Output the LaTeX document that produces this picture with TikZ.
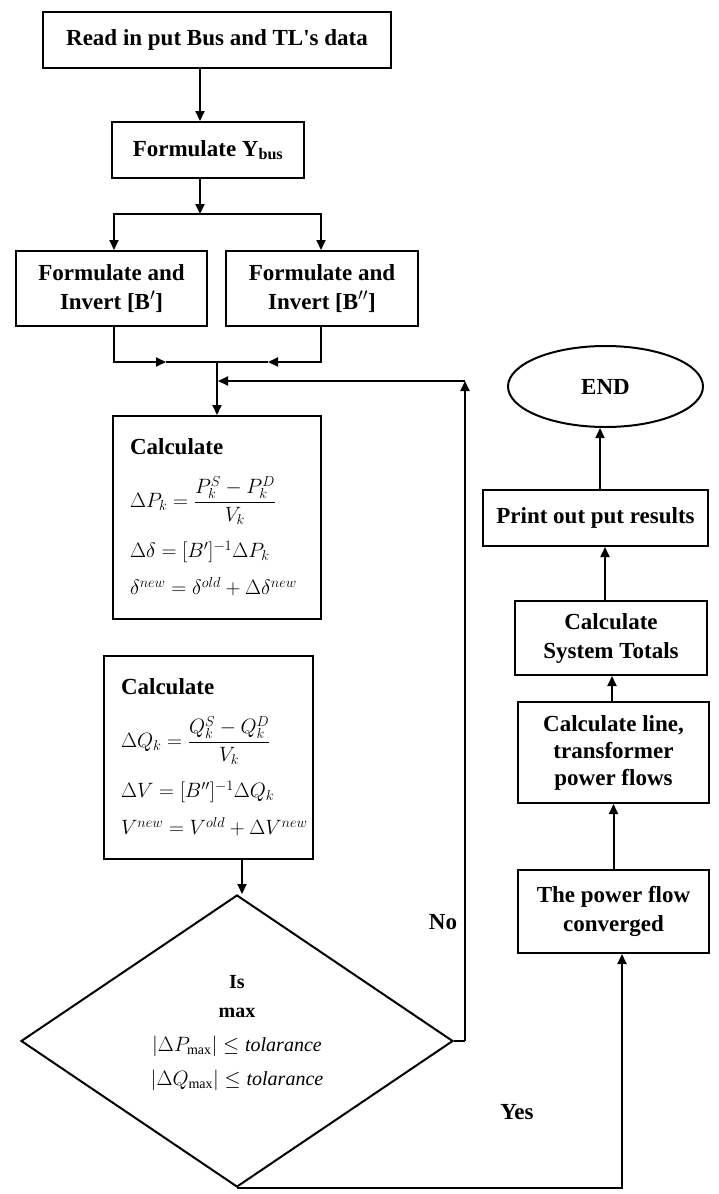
\documentclass[tikz,border=0pt]{standalone}
\usepackage{fontspec}
\setmainfont{Liberation Serif}
\usetikzlibrary{arrows.meta,shapes.geometric}
\newcommand{\eqline}[1]{\mbox{\fontsize{20}{24}\selectfont$#1$}}
\begin{document}
\begin{tikzpicture}[x=1pt,y=-1pt,
  ln/.style={line width=2pt},
  arr/.style={ln,-{Triangle[length=10pt,width=9pt]}},
  txt/.style={font=\bfseries\fontsize{23}{29}\selectfont},
  procbox/.style 2 args={draw,ln,txt,minimum width=#1,minimum height=#2,
    inner sep=0pt,align=center},
  calcbox/.style 2 args={draw,ln,txt,text width=#1,minimum height=#2,
    inner xsep=17pt,inner ysep=0pt,align=left},
  lbl/.style={txt,inner sep=0pt}]
\useasboundingbox (0,0) rectangle (719,1194);

% main column
\node[procbox={348pt}{56pt}] (read) at (217,40) {Read in put Bus and TL\textquotesingle s data};
\node[procbox={192pt}{56pt}] (ybus) at (208,150) {Formulate Y\textsubscript{bus}};
\node[procbox={191pt}{75pt}] (bp) at (111.5,288.5) {Formulate and\\ Invert [B$^{\prime}$]};
\node[procbox={192pt}{75pt}] (bpp) at (322,288.5) {Formulate and\\ Invert [B$^{\prime\prime}$]};

\node[calcbox={174pt}{203pt}] (calcP) at (217,517.5) {Calculate\\[20pt]
  \eqline{\displaystyle \Delta P_k=\frac{P_k^S-P_k^D}{V_k}}\\[15pt]
  \eqline{\Delta\delta=[B']^{-1}\Delta P_k}\\[8pt]
  \eqline{\delta^{new}=\delta^{old}+\Delta\delta^{new}}};
\node[calcbox={175pt}{203pt}] (calcQ) at (208.5,757.5) {Calculate\\[20pt]
  \eqline{\displaystyle \Delta Q_k=\frac{Q_k^S-Q_k^D}{V_k}}\\[15pt]
  \eqline{\Delta V=[B'']^{-1}\Delta Q_k}\\[8pt]
  \eqline{V^{new}=V^{old}+\Delta V^{new}}};

\node[draw,ln,diamond,minimum width=432pt,minimum height=292pt,inner sep=0pt] (dia) at (237,1041) {};
\node[align=center,inner sep=0pt,font=\fontsize{20}{34}\selectfont] (diatext) at (237,1033)
  {\textbf{Is}\\[-5pt] \textbf{max}\\
   $|\Delta P_{\max}|\le \mathit{tolarance}$\\
   $|\Delta Q_{\max}|\le \mathit{tolarance}$};

% right column
\node[procbox={191pt}{83pt}] (conv) at (613.5,911.5) {The power flow\\ converged};
\node[procbox={191pt}{101pt}] (flows) at (613.5,752.5) {Calculate line,\\[-2pt] transformer\\[-2pt] power flows};
\node[procbox={192pt}{74pt}] (totals) at (611,638) {Calculate\\ System Totals};
\node[procbox={225pt}{56pt}] (print) at (595.5,518) {Print out put results};
\node[draw,ln,ellipse,minimum width=195pt,minimum height=81pt,inner sep=0pt,
  font=\bfseries\fontsize{23}{26}\selectfont] (finish) at (605.5,386.5) {END};

\node[lbl] (nolbl) at (443,922) {No};
\node[lbl] (yeslbl) at (517,1112) {Yes};

% junction points
\coordinate (split) at (200,214);
\coordinate (join) at (217,362);
\coordinate (midL) at (166,362);
\coordinate (midR) at (268,362);
\coordinate (noCorner) at (465,1041);
\coordinate (fb) at (465,381);
\coordinate (fbIn) at (218,381);

% connectors
\draw[arr] ([xshift=-17pt]read.south) -- ([xshift=-8pt]ybus.north);
\draw[arr] ([xshift=-8pt]ybus.south) -- (split);
\draw[arr] (split) -| ([xshift=2.5pt]bp.north);
\draw[arr] (split) -| ([xshift=-1pt]bpp.north);
\draw[arr] ([xshift=2.5pt]bp.south) |- (midL);
\draw[ln] (midL) -- (join);
\draw[arr] ([xshift=-1pt]bpp.south) |- (midR);
\draw[ln] (midR) -- (join);
\draw[arr] (join) -- (calcP.north);
\draw[ln] (dia.east) -- (noCorner);
\draw[arr] (noCorner) -- (fb);
\draw[arr] (fb) -- (fbIn);
\draw[arr] ([xshift=33.5pt]calcQ.south) -- ([xshift=33.5pt]calcQ.south |- dia.north);
\draw[arr] (dia.south) -| ([xshift=8.5pt]conv.south);
\draw[arr] (conv.north) -- (flows.south);
\draw[arr] ([xshift=-1.5pt]flows.north) -- ([xshift=1pt]totals.south);
\draw[arr] ([xshift=-6pt]totals.north) -- ([xshift=9.5pt]print.south);
\draw[arr] ([xshift=4.5pt]print.north) -- ([xshift=-5.5pt]finish.south);
\end{tikzpicture}
\end{document}
